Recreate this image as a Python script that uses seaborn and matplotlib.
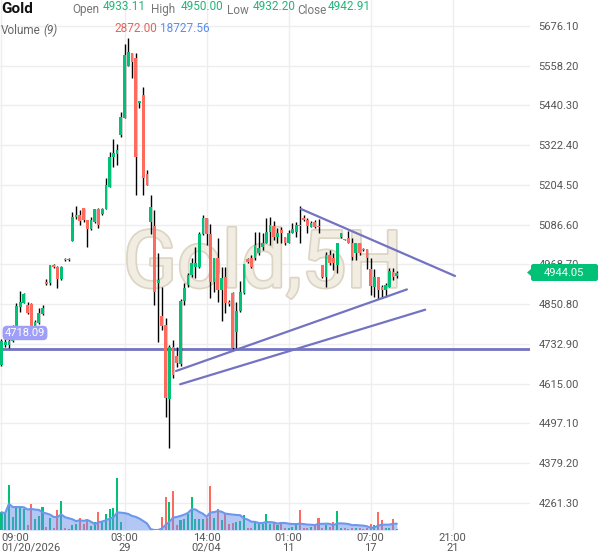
import numpy as np
import pandas as pd
import seaborn as sns
import matplotlib.pyplot as plt
from matplotlib import patheffects
from matplotlib.patches import FancyBboxPatch, Polygon

# 5H candles
opens = [4670.6, 4729.9, 4729.9, 4742.7, 4784.2, 4842.6, 4855.4, 4848.6, 4851.6, 4784.2,
         4794.3, 4821.9, 4916.8, 4913.9, 4967.2, 4961.3, 4925.7, 4983.5, 4982.1, 5038.4,
         5108.7, 5116.4, 5135.4, 5100.7, 5074.0, 5093.9, 5133.3, 5118.5, 5133.3, 5199.4,
         5288.4, 5296.4, 5352.8, 5404.1, 5558.3, 5595.1, 5582.1, 5446.8, 5471.4, 5236.2,
         5095.6, 5083.8, 4912.9, 4815.9, 4789.1, 4569.8, 4724.9, 4697.3, 4673.6, 4860.4,
         4907.9, 4937.5, 4962.2, 4962.2, 5058.3, 5106.6, 5058.3, 4917.7, 4988.0, 4893.1,
         4932.6, 4857.5, 4883.9, 4767.3, 4830.8, 4883.9, 4984.1, 4987.1, 4987.1, 5002.8,
         5021.5, 5031.6, 5066.0, 5082.9, 5049.4, 5071.0, 5049.4, 5031.6, 5061.2, 5065.1,
         5085.9, 5105.7, 5100.7, 5080.8, 5095.6, 5082.9, 4967.2, 4930.7, 4996.9, 4987.1,
         4967.2, 5051.2, 5044.3, 5048.2, 5033.4, 5003.7, 5033.4, 5014.6, 5014.6, 4954.5,
         4902.8, 4930.7, 4901.0, 4893.1, 4901.0, 4947.3, 4933.11]
highs = [4747.7, 4753.7, 4753.7, 4790.0, 4854.5, 4890.1, 4884.2, 4857.5, 4854.5, 4804.1,
         4839.7, 4848.6, 4925.7, 4967.2, 4970.2, 4964.2, 4964.2, 4988.0, 4988.0, 5125.3,
         5142.2, 5130.3, 5135.4, 5100.7, 5110.5, 5133.3, 5136.3, 5136.3, 5225.3, 5302.4,
         5340.9, 5326.1, 5420.1, 5622.1, 5639.6, 5595.1, 5595.1, 5453.6, 5496.0, 5249.0,
         5174.8, 5130.3, 5002.8, 4901.9, 4810.0, 4729.9, 4744.8, 4724.0, 4866.4, 4913.9,
         4943.5, 4988.0, 5021.5, 5065.1, 5115.5, 5106.6, 5088.8, 4988.0, 5047.3, 4962.2,
         4962.2, 4863.4, 4887.1, 4857.5, 4919.8, 4969.3, 4988.0, 4996.9, 5066.0, 5066.0,
         5061.2, 5106.6, 5110.5, 5098.6, 5076.1, 5080.8, 5049.4, 5071.0, 5090.9, 5095.6,
         5142.2, 5115.5, 5105.7, 5098.6, 5100.7, 5102.8, 4967.2, 5006.6, 5011.7, 5001.9,
         5031.6, 5063.0, 5045.2, 5068.9, 5046.4, 5033.4, 5033.4, 5017.6, 5014.6, 4987.1,
         4954.5, 4930.7, 4907.9, 4912.9, 4957.4, 4957.4, 4950.00]
lows = [4667.6, 4724.0, 4721.0, 4738.0, 4783.3, 4827.8, 4854.5, 4821.9, 4780.4, 4780.4,
        4792.1, 4818.9, 4907.9, 4907.9, 4958.3, 4899.0, 4922.7, 4979.1, 4979.1, 5038.4,
        5102.8, 5085.9, 5095.6, 5020.6, 5071.0, 5091.8, 5077.0, 5115.5, 5133.3, 5199.4,
        5258.8, 5263.8, 5347.7, 5403.2, 5558.3, 5522.7, 5174.8, 5432.9, 5174.8, 5204.5,
        5059.2, 4848.6, 4739.7, 4774.4, 4517.3, 4424.4, 4630.7, 4664.7, 4667.6, 4848.6,
        4901.9, 4931.6, 4928.7, 4958.3, 5055.3, 5026.5, 4869.3, 4888.0, 4858.4, 4801.1,
        4824.9, 4845.6, 4718.1, 4721.0, 4827.8, 4881.2, 4973.1, 4958.3, 4982.0, 4996.9,
        5011.7, 5031.6, 5026.5, 5041.4, 5031.6, 5031.6, 5026.5, 5031.6, 5061.2, 5051.2,
        5033.4, 5098.6, 5061.2, 5079.0, 5076.1, 5063.0, 4927.8, 4902.8, 4967.2, 4952.4,
        4943.5, 5048.2, 5041.4, 5031.6, 4982.0, 4982.0, 4996.9, 5008.7, 4954.5, 4878.2,
        4871.4, 4866.4, 4868.4, 4873.2, 4901.0, 4922.7, 4927.8]
closes = [4741.8, 4738.8, 4742.7, 4784.2, 4845.6, 4857.5, 4881.2, 4824.9, 4784.2, 4799.0,
          4825.7, 4839.7, 4912.3, 4967.2, 4961.3, 4925.7, 4961.3, 4982.1, 4983.5, 5110.5,
          5116.4, 5098.6, 5100.7, 5074.0, 5100.7, 5133.3, 5085.9, 5133.3, 5204.5, 5288.4,
          5299.4, 5308.3, 5407.1, 5590.1, 5598.1, 5568.4, 5288.4, 5453.6, 5224.4, 5204.5,
          5140.1, 4888.0, 4922.7, 4787.1, 4571.9, 4724.9, 4639.6, 4676.6, 4860.4, 4899.9,
          4937.5, 4972.3, 4973.1, 5058.3, 5105.7, 5059.2, 4917.7, 4988.0, 4893.1, 4929.6,
          4853.6, 4851.6, 4720.2, 4830.8, 4888.0, 4969.3, 4976.9, 4962.2, 5026.5, 5017.6,
          5032.5, 5066.0, 5085.9, 5049.4, 5061.2, 5061.2, 5033.4, 5061.2, 5073.1, 5085.9,
          5082.9, 5100.7, 5082.9, 5092.7, 5080.8, 5080.8, 4930.7, 4996.9, 4972.3, 4972.3,
          5031.6, 5061.2, 5042.3, 5033.4, 4991.8, 5033.4, 5001.9, 5010.5, 4987.1, 4904.9,
          4930.7, 4893.1, 4893.1, 4907.9, 4950.3, 4930.7, 4944.05]
volume = [51300, 46400, 130500, 38600, 66700, 66700, 60900, 14500, 75400, 31900,
          40600, 66700, 9600, 35700, 4900, 58000, 84100, 4900, 2900, 14500,
          17400, 33900, 17400, 29000, 11600, 22300, 51300, 24100, 46400, 60900,
          63800, 149900, 22300, 0, 0, 0, 0, 0, 0, 0,
          0, 0, 0, 36800, 94800, 80300, 113100, 14500, 29000, 31900,
          46400, 94800, 31900, 31900, 31900, 33900, 127600, 35700, 60900, 29000,
          46400, 17400, 19400, 22300, 27000, 43500, 6700, 4900, 24100, 17400,
          17400, 46400, 17400, 19400, 14500, 22300, 4900, 4900, 9600, 14500,
          58000, 6700, 6700, 9600, 14500, 35700, 4900, 14500, 9600, 22300,
          56000, 5800, 4400, 2900, 6700, 6700, 6700, 2900, 4400, 17400,
          14500, 51300, 29000, 6700, 6700, 31000, 2872]

tick_pos = [0, 33, 55, 77, 99, 121]
tick_labels = ["09:00\n01/20/2026", "03:00\n29", "14:00\n02/04", "01:00\n11", "07:00\n17", "21:00\n21"]
price_ticks = [4261.30, 4379.20, 4497.10, 4615.00, 4732.90, 4850.80, 4968.70,
               5086.60, 5204.50, 5322.40, 5440.30, 5558.20, 5676.10]
support = 4718.09
last_price = 4944.05
trend_lines = [((80.3, 5133.3), (121.6, 4934.6)),
               ((46.8, 4652.8), (108.7, 4894.8)),
               ((47.9, 4613.4), (113.6, 4834.6))]
header = [("Open", "4933.11"), ("High", "4950.00"), ("Low", "4932.20"), ("Close", "4942.91")]
vol_last, vol_ma = "2872.00", "18727.56"

GREEN = "#00c176"
RED = "#ff6a5f"
PURPLE = "#7373c2"
GRAY = "#555555"

sns.set_theme(style="white")
plt.rcParams["font.family"] = ["Roboto", "DejaVu Sans"]

W, H = 600, 558
fig = plt.figure(figsize=(6, 5.58), dpi=100)
fig.patch.set_facecolor("white")


def fx(x):
    return x / W


def fy(y):
    return 1 - y / H


XLIM = (-0.4, 141.7)
ax = fig.add_axes([0, fy(530), 530 / W, 530 / H])
ax.set_xlim(*XLIM)
ax.set_ylim(4181.2, 5753.2)
for s in ax.spines.values():
    s.set_visible(False)

df = pd.DataFrame({"o": opens, "h": highs, "l": lows, "c": closes, "v": volume})
df["i"] = np.arange(len(df))
up = df.c >= df.o
colors = np.where(up, GREEN, RED)

# watermark
ax.text(70, 4902, "Gold,5H", fontsize=57, color="#f2ede3", ha="center", va="baseline",
        zorder=1, path_effects=[patheffects.withStroke(linewidth=2.5, foreground="#ddd5c3")])

ax.vlines(df.i, df.l, df.h, color="black", lw=1, zorder=3)
ax.bar(df.i, (df.c - df.o).abs().clip(lower=3.0), bottom=np.minimum(df.o, df.c),
       width=0.74, color=colors, lw=0, zorder=4)

ax.axhline(support, color=PURPLE, lw=2, zorder=2)
for (x0, y0), (x1, y1) in trend_lines:
    ax.plot([x0, x1], [y0, y1], color=PURPLE, lw=1.6, zorder=5, solid_capstyle="round")

ax.set_yticks(price_ticks)
ax.set_yticklabels([f"{p:.2f}" for p in price_ticks])
ax.yaxis.tick_right()
ax.tick_params(axis="y", length=0, pad=6, labelsize=8, labelcolor=GRAY)
ax.set_xticks(tick_pos)
ax.set_xticklabels(tick_labels)
ax.tick_params(axis="x", length=0, pad=2, labelsize=8, labelcolor=GRAY)
for lbl in ax.get_xticklabels():
    lbl.set_linespacing(1.0)
ax.get_xticklabels()[0].set_ha("left")
ax.grid(True, color="#eeeeee", lw=1)
ax.set_axisbelow(True)

# volume pane
vax = fig.add_axes([0, fy(530), 530 / W, 100 / H], facecolor="none")
vax.set_xlim(*XLIM)
vax.set_ylim(0, 290000)
vax.bar(df.i, df.v, width=0.55, color=colors, lw=0, zorder=1)
ma = df.v.rolling(9, min_periods=1).mean()
vax.fill_between(df.i, ma, color="#6991eb", alpha=0.5, lw=0, zorder=2)
sns.lineplot(x=df.i, y=ma, ax=vax, color="#6b97ee", lw=1.5, zorder=3)
vax.axis("off")

# support label
fig.text(fx(25), fy(333), f"{support:.2f}", color="white", fontsize=8, ha="center", va="center",
         bbox=dict(boxstyle="round,pad=0.2,rounding_size=0.4", fc="#9f9ff7", ec="none"))

# last price tag
fig.patches.append(FancyBboxPatch((fx(531), fy(281)), 67 / W, 17 / H,
                                  boxstyle="round,pad=0,rounding_size=0.004",
                                  transform=fig.transFigure, fc=GREEN, ec="none", zorder=10))
fig.patches.append(Polygon([(fx(527), fy(272.5)), (fx(531.5), fy(268.5)), (fx(531.5), fy(276.5))],
                           closed=True, transform=fig.transFigure, fc=GREEN, ec="none", zorder=10))
fig.text(fx(564), fy(272.5), f"{last_price:.2f}", color="white", fontsize=8,
         ha="center", va="center", zorder=11)

# header
fig.text(fx(1), fy(9), "Gold", fontsize=11, fontweight="bold", color="#111111", va="center")
hx = [(72, 103), (151, 181), (227, 253), (297, 328)]
for (lab, val), (x0, x1) in zip(header, hx):
    fig.text(fx(x0), fy(10), lab, fontsize=8.5, color="#777777", va="center")
    fig.text(fx(x1), fy(7), val, fontsize=8.5, color="#22b478", va="center")
fig.text(fx(1), fy(30), "Volume", fontsize=8.5, color="#666666", va="center")
fig.text(fx(43), fy(30), "(9)", fontsize=8.5, color="#666666", va="center", style="italic")
fig.text(fx(114), fy(28), vol_last, fontsize=8.5, color="#e5635a", va="center")
fig.text(fx(160), fy(28), vol_ma, fontsize=8.5, color="#5b8def", va="center")

fig.savefig("out.png", dpi=100)
